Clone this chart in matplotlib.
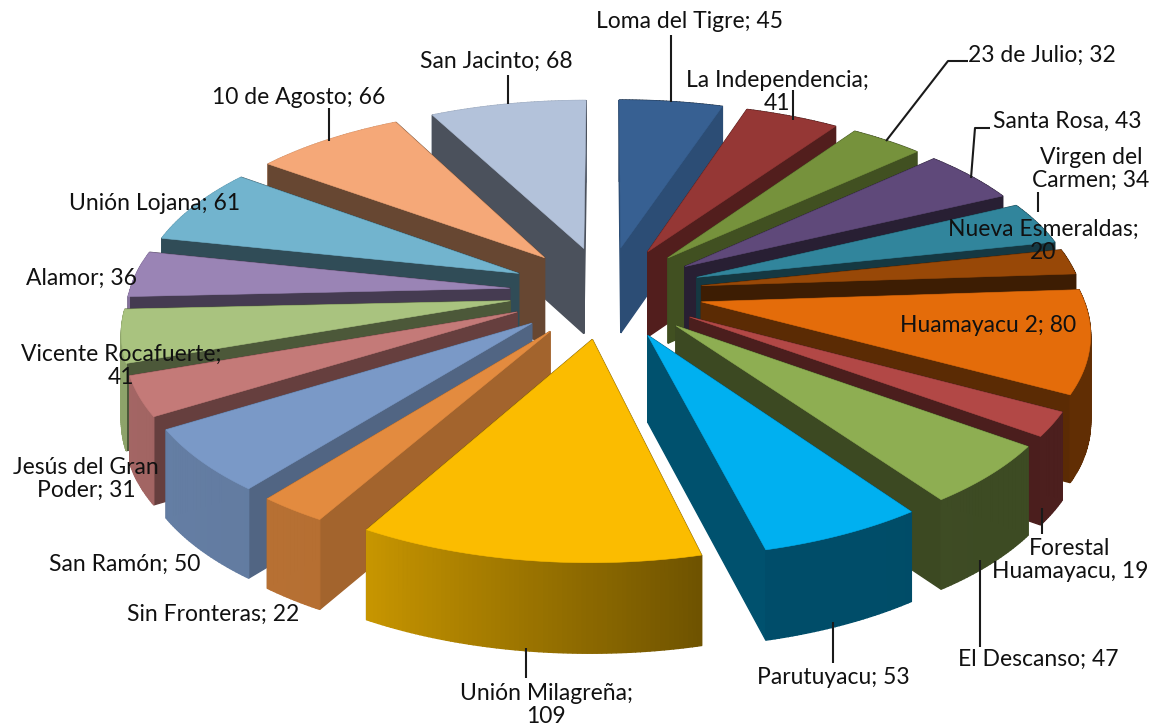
import numpy as np
import matplotlib
matplotlib.use("Agg")
import matplotlib.pyplot as plt

# ---- data ----
names = ["Loma del Tigre", "La Independencia", "23 de Julio", "Santa Rosa", "Virgen del Carmen",
         "Nueva Esmeraldas", "Huamayacu 2", "Forestal Huamayacu", "El Descanso", "Parutuyacu",
         "Unión Milagreña", "Sin Fronteras", "San Ramón", "Jesús del Gran Poder",
         "Vicente Rocafuerte", "Alamor", "Unión Lojana", "10 de Agosto", "San Jacinto"]
values = [45, 41, 32, 43, 34, 20, 80, 19, 47, 53, 109, 22, 50, 31, 41, 36, 61, 66, 68]

# ---- style ----
colors = ["#376092", "#953735", "#76923C", "#5F497A", "#31859C", "#984807", "#E46C0A", "#B24846",
          "#8EAE52", "#00B0F0", "#FBBC00", "#E38B3F", "#7A99C7", "#C47A78", "#A9C37F", "#9A84B5",
          "#72B4CE", "#F5A878", "#B3C2DA"]
side_shade = [.80, .55, .55, .42, .42, .40, .40, .42, .42, .46, .45, .72, .66, .52, .45, .45, .42, .42, .42]
label_text = ["Loma del Tigre; 45", "La Independencia;\n41", "23 de Julio; 32", "Santa Rosa, 43",
              "Virgen del\nCarmen; 34", "Nueva Esmeraldas;\n20", "Huamayacu 2; 80", "Forestal\nHuamayacu, 19",
              "El Descanso; 47", "Parutuyacu; 53", "Unión Milagreña;\n109", "Sin Fronteras; 22",
              "San Ramón; 50", "Jesús del Gran\nPoder; 31", "Vicente Rocafuerte;\n41", "Alamor; 36",
              "Unión Lojana; 61", "10 de Agosto; 66", "San Jacinto; 68"]
label_pos = [(689, 22), (777, 92), (1042, 55), (1067, 121), (1091, 169), (1043, 241), (988, 325),
             (1070, 560), (1038, 659), (833, 678), (546, 705), (213, 614), (125, 564), (86, 479),
             (121, 366), (81, 278), (155, 204), (299, 97), (496, 61)]
leaders = [[(671, 35), (671, 102)], [(793, 90), (793, 120)], [(968, 61), (948, 61), (886, 141)],
           [(990, 128), (975, 128), (971, 178)], [(1038, 192), (1038, 212)], [(1042, 508), (1042, 534)],
           [(980, 560), (980, 647)], [(833, 622), (833, 663)], [(526, 648), (526, 678)],
           [(508, 75), (508, 104)], [(329, 108), (329, 141)]]

# ---- projection parameters ----
CX, CY, BX, AY, HEIGHT, EXPLODE = 606, 292, 380, 182, 86, 0.255
PX_FRONT, PX_BACK, PY_FRONT, PY_BACK = 0.142, 0.118, 0.126, 0.149


def project(x, y, drop=0.0):
    x, y = np.asarray(x, float), np.asarray(y, float)
    px = 1.0 / (1.0 - y * np.where(y > 0, PX_FRONT, PX_BACK))
    py = 1.0 / (1.0 - y * np.where(y > 0, PY_FRONT, PY_BACK))
    return np.column_stack([CX + BX * x * px, CY + AY * y * py + drop * HEIGHT * py ** 0.3])


def shade(col, f):
    return tuple(np.array(matplotlib.colors.to_rgb(col)) * f)


def wall_shade(theta):
    return np.interp(theta, [90, 166, 210, 270], [.42, .44, .80, .85])


fig = plt.figure(figsize=(11.58, 7.28), dpi=100, facecolor="white")
ax = fig.add_axes([0, 0, 1, 1])
ax.set_xlim(0, 1158)
ax.set_ylim(728, 0)
ax.axis("off")

vals = np.array(values, float)
edges = np.concatenate([[0], np.cumsum(vals)]) / vals.sum() * 360
mids = (edges[:-1] + edges[1:]) / 2
# depth axis y = -cos(theta): smallest y (far) first
order = np.argsort(np.cos(np.radians(mids)))[::-1]

for z, i in enumerate(order):
    t0, t1, tm = edges[i], edges[i + 1], mids[i]
    ox = EXPLODE * np.sin(np.radians(tm))
    oy = -EXPLODE * np.cos(np.radians(tm))
    th = np.linspace(t0, t1, max(3, int((t1 - t0) / 0.6) + 2))
    xs = ox + np.sin(np.radians(th))
    ys = oy - np.cos(np.radians(th))
    faces = []
    for a in range(len(th) - 1):
        fx, fy = xs[[a, a + 1]], ys[[a, a + 1]]
        quad = np.vstack([project(fx, fy), project(fx[::-1], fy[::-1], 1)])
        faces.append((fy.mean(), quad, shade(colors[i], wall_shade((th[a] + th[a + 1]) / 2))))
    for k in (0, -1):
        fx, fy = np.array([ox, xs[k]]), np.array([oy, ys[k]])
        quad = np.vstack([project(fx, fy), project(fx[::-1], fy[::-1], 1)])
        faces.append((fy.mean(), quad, shade(colors[i], side_shade[i])))
    faces.sort(key=lambda f: f[0])
    for _, quad, col in faces:
        ax.fill(quad[:, 0], quad[:, 1], facecolor=col, edgecolor=col, linewidth=1.0, zorder=z + 1)
    top = project(np.r_[ox, xs], np.r_[oy, ys])
    ax.fill(top[:, 0], top[:, 1], facecolor=colors[i], edgecolor=colors[i], linewidth=0.4, zorder=z + 1.5)

for path in leaders:
    p = np.array(path)
    ax.plot(p[:, 0], p[:, 1], color="#1a1a1a", lw=1.5, zorder=50, solid_capstyle="butt")

for txt, (x, y) in zip(label_text, label_pos):
    ax.text(x, y, txt, ha="center", va="center", fontsize=16.5, family="Lato", color="#111111",
            linespacing=1.1, zorder=60)

fig.savefig("out.png", dpi=100, facecolor="white")
